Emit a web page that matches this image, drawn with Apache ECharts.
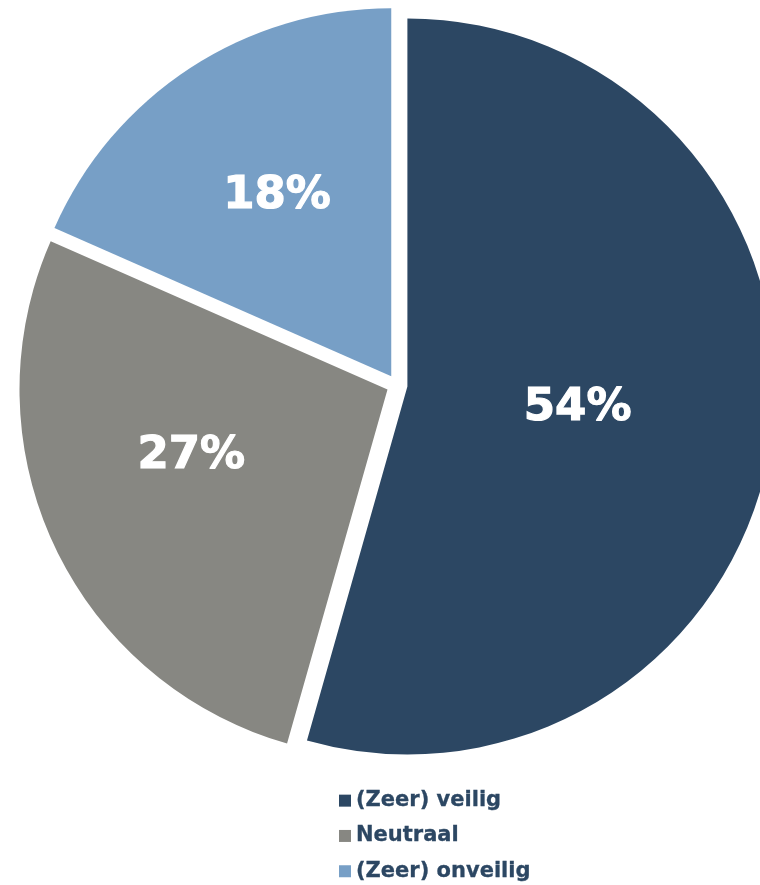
<!DOCTYPE html>
<html>
<head>
<meta charset="utf-8">
<script src="https://cdn.jsdelivr.net/npm/echarts@6/dist/echarts.min.js"></script>
<style>
html,body{margin:0;padding:0;background:#fff;}
#chart{width:760px;height:885px;}
</style>
</head>
<body>
<div id="chart"></div>
<script>
var categories = ['(Zeer) veilig', 'Neutraal', '(Zeer) onveilig'];
var values = [54.4, 27.2, 18.4];
var colors = ['#2C4763', '#878782', '#779FC6'];
// small per-label nudges (style only) to mimic the original label placement
var labelNudge = [[-15, -4], [-27, -13], [-12, -23]];

var chart = echarts.init(document.getElementById('chart'), null, {renderer: 'canvas'});
var data = categories.map(function (c, i) {
  return { name: c, value: values[i], selected: true, itemStyle: { color: colors[i] } };
});
chart.setOption({
  animation: false,
  legend: {
    orient: 'vertical',
    left: 339,
    top: 790,
    padding: 0,
    itemWidth: 12,
    itemHeight: 12,
    itemGap: 14,
    icon: 'rect',
    selectedMode: false,
    textStyle: { fontFamily: 'DejaVu Sans', fontWeight: 'bold', fontSize: 21, color: '#2C4763',
      textBorderColor: '#2C4763', textBorderWidth: 0.3 },
    data: categories
  },
  series: [{
    type: 'pie',
    center: [397, 385],
    radius: [0, 368],
    startAngle: 90,
    clockwise: true,
    selectedMode: 'multiple',
    selectedOffset: 10.5,
    avoidLabelOverlap: false,
    emphasis: { disabled: true },
    label: {
      show: true,
      position: 'inside',
      color: '#fff',
      fontFamily: 'DejaVu Sans',
      fontWeight: 'bold',
      fontSize: 45,
      textBorderColor: '#fff',
      textBorderWidth: 1.2,
      formatter: function (p) { return Math.round(p.value) + '%'; }
    },
    labelLayout: function (p) {
      var n = labelNudge[p.dataIndex];
      return { dx: n[0], dy: n[1] };
    },
    labelLine: { show: false },
    data: data
  }]
});
</script>
</body>
</html>
